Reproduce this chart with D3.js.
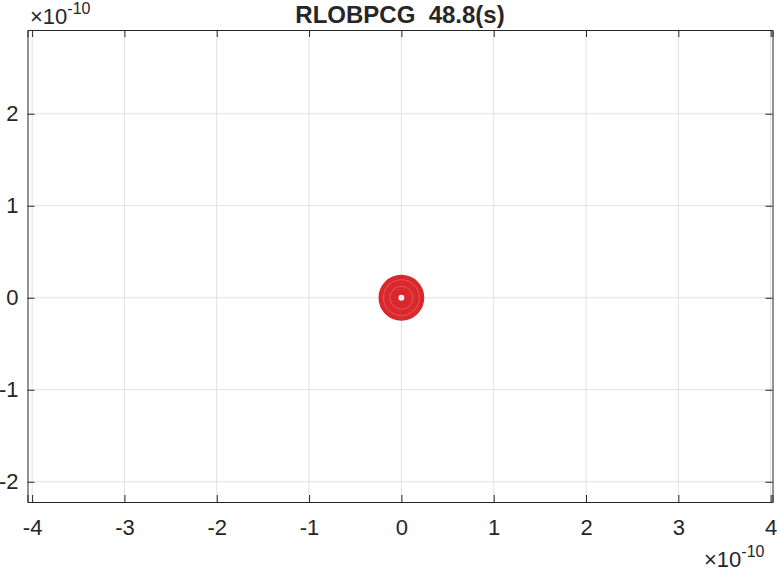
<!DOCTYPE html>
<html><head><meta charset="utf-8">
<script src="https://cdn.jsdelivr.net/npm/d3@7"></script>
<style>body{margin:0;background:#fff}svg text{font-family:"Liberation Sans",Arial,Helvetica,sans-serif;fill:#262626}</style>
</head><body><div id="chart"></div>
<script>
const xTicks = [-4,-3,-2,-1,0,1,2,3,4];
const yTicks = [-2,-1,0,1,2];
const xDomain = [-4.05, 4.02];
const yDomain = [-2.22, 2.91];
// rings of the converged point cloud (units of 1e-10)
const ringRadii = [0.05, 0.08, 0.11, 0.14, 0.17, 0.2, 0.23];
const faintRings = [0.125, 0.195];
const ringCenter = {x: 0, y: 0};
const title = "RLOBPCG  48.8(s)";
const expLabel = "-10";

const W = 777, H = 573;
const m = {l: 27.5, r: 4.5, t: 30, b: 71};
const svg = d3.select("#chart").append("svg").attr("width", W).attr("height", H);
const x = d3.scaleLinear().domain(xDomain).range([m.l, W - m.r]);
const y = d3.scaleLinear().domain(yDomain).range([H - m.b, m.t]);
const axisColor = "#262626";

// grid
const g = svg.append("g");
g.selectAll(".gx").data(xTicks).join("line")
  .attr("x1", d => x(d)).attr("x2", d => x(d)).attr("y1", y(yDomain[0])).attr("y2", y(yDomain[1]))
  .attr("stroke", "#e0e0e0").attr("stroke-width", 1);
g.selectAll(".gy").data(yTicks).join("line")
  .attr("y1", d => y(d)).attr("y2", d => y(d)).attr("x1", x(xDomain[0])).attr("x2", x(xDomain[1]))
  .attr("stroke", "#e0e0e0").attr("stroke-width", 1);

// data rings
const pxPerUnit = x(1) - x(0);
const red = "#d9272b";
svg.selectAll(".ring").data(ringRadii).join("circle")
  .attr("cx", x(ringCenter.x)).attr("cy", y(ringCenter.y))
  .attr("r", d => d * pxPerUnit)
  .attr("fill", "none").attr("stroke", red).attr("stroke-width", 3.3);
svg.selectAll(".ring2").data(faintRings).join("circle")
  .attr("cx", x(ringCenter.x)).attr("cy", y(ringCenter.y))
  .attr("r", d => d * pxPerUnit)
  .attr("fill", "none").attr("stroke", "#e86a6a").attr("stroke-width", 0.7);

// axes
const xAxisB = d3.axisBottom(x).tickValues(xTicks).tickSize(-7).tickPadding(17).tickFormat(d3.format("d"));
const xAxisT = d3.axisTop(x).tickValues(xTicks).tickSize(-7).tickFormat("");
const yAxisL = d3.axisLeft(y).tickValues(yTicks).tickSize(-7).tickPadding(9).tickFormat(d3.format("d"));
const yAxisR = d3.axisRight(y).tickValues(yTicks).tickSize(-7).tickFormat("");
function style(sel){
  sel.select(".domain").attr("stroke", axisColor);
  sel.selectAll(".tick line").attr("stroke", axisColor);
  sel.selectAll(".tick text").attr("font-size", 22).attr("fill", axisColor)
    .attr("font-family", "Liberation Sans, Arial, sans-serif");
}
svg.append("g").attr("transform", `translate(0,${H - m.b})`).call(xAxisB).call(style);
svg.append("g").attr("transform", `translate(0,${m.t})`).call(xAxisT).call(style);
svg.append("g").attr("transform", `translate(${m.l},0)`).call(yAxisL).call(style);
svg.append("g").attr("transform", `translate(${W - m.r},0)`).call(yAxisR).call(style);
svg.selectAll(".domain").attr("stroke-width", 1);
svg.selectAll(".tick text").text(function(){ return this.textContent.replace("\u2212","-"); });

// title
svg.append("text").attr("x", 400).attr("y", 23).attr("text-anchor", "middle")
  .attr("xml:space", "preserve").style("white-space", "pre")
  .attr("font-size", 24).attr("font-weight", "bold").attr("fill", "#000").text(title);

// exponent labels
function expo(xp, yp){
  const t = svg.append("text").attr("x", xp).attr("y", yp).attr("font-size", 22);
  t.append("tspan").text("\u00d710");
  t.append("tspan").attr("dy", -10).attr("font-size", 16).text(expLabel);
}
expo(30, 24);
expo(704, 567);
</script></body></html>
